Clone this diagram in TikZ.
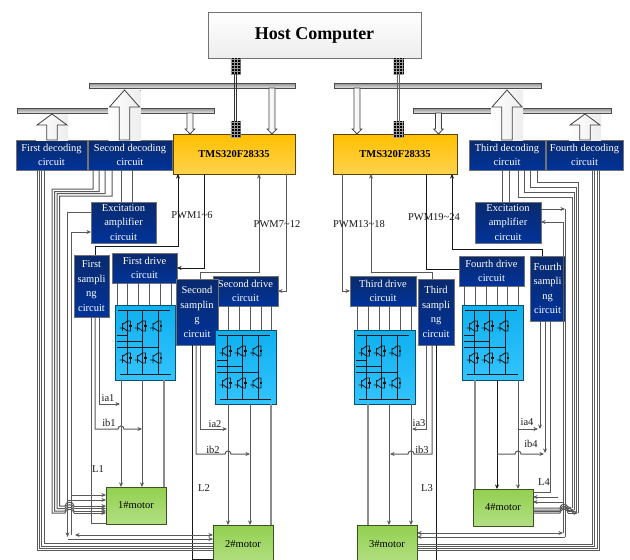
\documentclass[tikz,border=0pt]{standalone}
\usepackage{fontspec}
\setmainfont{Liberation Serif}
\usepackage{tikz}
\usetikzlibrary{arrows.meta,patterns}
\definecolor{navytop}{HTML}{0A2A6E}
\definecolor{navybot}{HTML}{003399}
\definecolor{skytop}{HTML}{0FB0EE}
\definecolor{skybot}{HTML}{33C4FF}
\definecolor{leaftop}{HTML}{92D050}
\definecolor{leafbot}{HTML}{B2DF82}
\definecolor{goldtop}{HTML}{FFC000}
\definecolor{goldbot}{HTML}{FFD24D}
\tikzset{
  boxtext/.style={font=\fontsize{10.5}{14.5}\selectfont,align=center,inner sep=0,outer sep=0},
  navybox/.style={boxtext,draw=black!55,line width=1pt,top color=navytop,bottom color=navybot,text=white},
  modbox/.style={boxtext,draw=black!55!skytop,line width=1pt,top color=skytop,bottom color=skybot},
  motorbox/.style={boxtext,draw=black!60!leaftop,line width=1pt,top color=leaftop,bottom color=leafbot},
  dspbox/.style={boxtext,draw=black!65!goldtop,line width=1pt,top color=goldtop,bottom color=goldbot,font=\fontsize{10.5}{12}\selectfont\bfseries},
  barbox/.style={inner sep=0,outer sep=0,draw=black!70,line width=.8pt,top color=black!45,bottom color=black!10},
  linkblock/.style={inner sep=0,outer sep=0,minimum width=10,minimum height=16,preaction={fill=black},pattern=grid,pattern color=black!40},
  sigtext/.style={boxtext,text=black!90},
  wirebk/.style={draw=black!90,line width=.8pt},
  wiregr/.style={draw=black!65,line width=1pt},
  wirelt/.style={draw=black!45,line width=1.3pt},
  fatarrow/.style={draw=black!75,line width=.8pt,left color=white,right color=black!7},
  igbtmod/.pic={
    \draw[line width=1pt,draw=black!90] (3,5.5) -- (55,5.5) (5,69) -- (56,69);
    \draw[line width=.9pt,draw=black!90] (2,30) -- (12.5,30) (2,36) -- (27.5,36) (2,42) -- (43,42);
    \foreach \lx in {12.5,27.5,43} {
      \draw[line width=.9pt,draw=black!90] (\lx,5.5) -- (\lx,69);
      \foreach \ly in {21,53} {
        \draw[line width=.8pt,draw=black!90] (\lx-8,\ly+2) -- (\lx-5,\ly+2) (\lx-5,\ly-3) -- (\lx-5,\ly+5)
          (\lx-5,\ly-1.5) -- (\lx,\ly-5) (\lx-5,\ly+1.5) -- (\lx,\ly+5) (\lx,\ly-5) -- (\lx+3,\ly-5) -- (\lx+3,\ly+5) -- (\lx,\ly+5);
        \fill[black!90] (\lx+1.6,\ly-1.4) rectangle (\lx+4.4,\ly+1.4);
      }
    }
  }
}
\begin{document}
\begin{tikzpicture}[x=1pt,y=-1pt,>={Stealth[length=1.6mm,width=1.4mm]}]
\clip (0,0) rectangle (630,560);
\fill[white] (0,0) rectangle (630,560);

\node (host) [boxtext,draw=black!55,line width=1pt,top color=white,bottom color=black!7,minimum width=213,minimum height=46,font=\fontsize{18}{20}\selectfont\bfseries] at (314.5,35) {Host Computer};
\node (barA) [barbox,minimum width=206,minimum height=5] at (192,85.5) {};
\node (barB) [barbox,minimum width=197,minimum height=5] at (115.5,110.5) {};
\node (barC) [barbox,minimum width=207,minimum height=5] at (437.5,85.5) {};
\node (barD) [barbox,minimum width=198,minimum height=5] at (512,110.5) {};
\node (dsp1) [dspbox,minimum width=122,minimum height=40] at (234,154) {TMS320F28335};
\node (dsp2) [dspbox,minimum width=124,minimum height=40] at (395,154) {TMS320F28335};

\node (dec1) [navybox,minimum width=71,minimum height=30] at (51.5,155) {First decoding\\circuit};
\node (dec2) [navybox,minimum width=84,minimum height=30] at (130,155) {Second decoding\\circuit};
\node (dec3) [navybox,minimum width=76,minimum height=30] at (507,155) {Third decoding\\circuit};
\node (dec4) [navybox,minimum width=77,minimum height=30] at (584.5,155) {Fourth decoding\\circuit};
\node (exc1) [navybox,minimum width=65,minimum height=41] at (123.5,222.5) {Excitation\\amplifier\\circuit};
\node (exc2) [navybox,minimum width=66,minimum height=41] at (508,222.5) {Excitation\\amplifier\\circuit};
\node (drv1) [navybox,minimum width=65,minimum height=30] at (144.5,268) {First drive\\circuit};
\node (drv2) [navybox,minimum width=65,minimum height=30] at (245.5,291) {Second drive\\circuit};
\node (drv3) [navybox,minimum width=66,minimum height=30] at (383,291) {Third drive\\circuit};
\node (drv4) [navybox,minimum width=65,minimum height=30] at (491.5,271) {Fourth drive\\circuit};
\node (smp1) [navybox,minimum width=35,minimum height=62] at (91.5,286) {First\\sampli\\ng\\circuit};
\node (smp2) [navybox,minimum width=42,minimum height=66] at (197,312) {Second\\samplin\\g\\circuit};
\node (smp3) [navybox,minimum width=36,minimum height=66] at (436,312) {Third\\sampli\\ng\\circuit};
\node (smp4) [navybox,minimum width=35,minimum height=65] at (547.5,288.5) {Fourth\\sampli\\ng\\circuit};

\node (mod1) [modbox,minimum width=60,minimum height=75] at (145,342.5) {};
\node (mod2) [modbox,minimum width=61,minimum height=74] at (245.5,367) {};
\node (mod3) [modbox,minimum width=61,minimum height=74] at (384.5,367) {};
\node (mod4) [modbox,minimum width=61,minimum height=75] at (492.5,342.5) {};
\foreach \modname in {mod1,mod2,mod3,mod4}
  \pic at (\modname.north west) {igbtmod};

\node (mot1) [motorbox,minimum width=60,minimum height=37] at (136,505.5) {1\#motor};
\node (mot2) [motorbox,minimum width=60,minimum height=38] at (243,544) {2\#motor};
\node (mot3) [motorbox,minimum width=60,minimum height=38] at (387,544) {3\#motor};
\node (mot4) [motorbox,minimum width=60,minimum height=37] at (503,507.5) {4\#motor};

\foreach \cx/\tipy/\neck/\src in {52/114/125/dec1,124.5/90/107/dec2,507/90/107/dec3,585/114/125/dec4} {
  \fill[left color=white,right color=black!7] (\cx-16,\tipy) rectangle (\cx+16,140);
  \draw[fatarrow] (\src.north -| \cx-5.3,0) -- (\cx-5.3,\neck) -- (\cx-15,\neck) -- (\cx,\tipy) -- (\cx+15,\neck) -- (\cx+5.3,\neck) -- (\src.north -| \cx+5.3,0) -- cycle;
}
\foreach \cx/\src/\dst in {190/barB/dsp1,272/barA/dsp1,357/barC/dsp2,438.5/barD/dsp2}
  \draw[fatarrow] (\src.south -| \cx-3,0) -- (\cx-3,129) -- (\cx-4.8,129) -- (\dst.north -| \cx,0) -- (\cx+4.8,129) -- (\cx+3,129) -- (\src.south -| \cx+3,0) -- cycle;

\node (linkA) [linkblock] at (235.5,66) {};
\node (linkB) [linkblock] at (235.5,129) {};
\node (linkC) [linkblock] at (398.5,66) {};
\node (linkD) [linkblock] at (398.5,129) {};
\draw[draw=black!80,line width=.8pt] ([xshift=-1]linkA.south) -- ([xshift=-1]linkB.north) ([xshift=1]linkA.south) -- ([xshift=1]linkB.north);
\draw[draw=black!60,line width=.8pt] ([xshift=-1]linkC.south) -- ([xshift=-1]linkD.north) ([xshift=1]linkC.south) -- ([xshift=1]linkD.north);

\draw[wirebk,->] (dsp1.south -| 204,0) |- (drv1.east |- 0,268);
\draw[wirebk,->] (smp1.north -| 95,0) |- (178,246) -- (dsp1.south -| 178,0);
\draw[wiregr,->] (dsp1.south -| 286,0) |- (drv2.east |- 0,291);
\draw[wiregr,->] (smp2.north -| 200,0) |- (259,272) -- (dsp1.south -| 259,0);
\draw[wiregr,->] (dsp2.south -| 342,0) |- (drv3.west |- 0,291);
\draw[wiregr,->] (smp3.north -| 432,0) |- (371,272) -- (dsp2.south -| 371,0);
\draw[wirebk] (dsp2.south -| 426,0) |- (drv4.west |- 0,269);
\draw[wirebk,->] (smp4.north -| 542,0) |- (452,249) -- (dsp2.south -| 452,0);

\foreach \px in {121,132}
  \draw[wiregr] (dec2.south -| \px,0) -- (exc1.north -| \px,0);
\foreach \px in {502,509}
  \draw[wiregr] (dec3.south -| \px,0) -- (exc2.north -| \px,0);

\foreach \px in {117,127,138,149,160,171}
  \draw[wiregr] (drv1.south -| \px,0) -- (mod1.north -| \px,0);
\foreach \px in {228,239,250,261,271}
  \draw[wiregr] (drv2.south -| \px,0) -- (mod2.north -| \px,0);
\foreach \px in {357,368,379,389,400,411}
  \draw[wiregr] (drv3.south -| \px,0) -- (mod3.north -| \px,0);
\foreach \px in {464,475,486,497,507,518}
  \draw[wiregr] (drv4.south -| \px,0) -- (mod4.north -| \px,0);

\draw[wiregr,->] (mod1.south -| 121,0) -- (mot1.north -| 121,0);
\draw[wiregr,->] (mod1.south -| 142,0) -- (mot1.north -| 142,0);
\draw[wirelt] (mod1.south -| 164,0) -- (mot1.north -| 164,0);
\draw[wiregr,->] (mod2.south -| 228,0) -- (mot2.north -| 228,0);
\draw[wiregr,->] (mod2.south -| 250,0) -- (mot2.north -| 250,0);
\draw[wirelt] (mod2.south -| 271,0) -- (mot2.north -| 271,0);
\draw[wirelt] (mod3.south -| 368,0) -- (mot3.north -| 368,0);
\draw[wiregr,->] (mod3.south -| 389,0) -- (mot3.north -| 389,0);
\draw[wiregr,->] (mod3.south -| 411,0) -- (mot3.north -| 411,0);
\draw[wirelt] (mod4.south -| 475,0) -- (mot4.north -| 475,0);
\draw[wirebk,->] (mod4.south -| 497,0) -- (mot4.north -| 497,0);
\draw[wiregr,->] (mod4.south -| 518,0) -- (mot4.north -| 518,0);

\draw[wiregr,->] (smp1.south -| 99,0) |- (120,404);
\draw[wiregr,->] (smp1.south -| 95,0) |- (118,429) .. controls (118,425) and (124,425) .. (124,429) -- (142,429);
\draw[wiregr] (smp1.south -| 91,0) |- (mot1.west |- 0,523);
\draw[wiregr,->] (smp2.south -| 200,0) |- (227,429);
\draw[wiregr,->] (smp2.south -| 196,0) |- (225,454) .. controls (225,450) and (231,450) .. (231,454) -- (250,454);
\draw[wirebk] (smp2.south -| 192,0) |- (mot2.west |- 0,559);
\draw[wiregr,->] (smp3.south -| 426,0) |- (412,429);
\draw[wiregr,->] (smp3.south -| 432,0) |- (414,454) .. controls (414,450) and (408,450) .. (408,454) -- (390,454);
\draw[wirebk] (smp3.south -| 436,0) -- (436,560);
\draw[wiregr,->] (smp4.south -| 540,0) -- (540,429);
\draw[wiregr,->] (smp4.south -| 545,0) -- (545,453);
\draw[wiregr] (smp4.south -| 550,0) |- (mot4.east |- 0,492);
\draw[wiregr,->] (518,429) -- (538,429);
\draw[wiregr,->] (497,454) -- (515,454) .. controls (515,450) and (521,450) .. (521,454) -- (544,454);

\foreach \px/\py/\qx/\qy in {37.5/550/dec1/mot2,39.5/548/dec1/mot2,41.5/546/dec1/mot2,44/543/dec1/mot2}
  \draw[wiregr] (\qx.south -| \px,0) |- (\qy.west |- 0,\py);
\foreach \sx/\hy/\vx/\my in {93/189/52/513,99/191.5/54.5/511,105/193.7/57/508.5,112/196/59.5/506} {
  \draw[wiregr] (dec2.south -| \sx,0) |- (\vx,\hy) |- (65,\my) .. controls (65,\my-5) and (74,\my-5) .. (74,\my);
  \draw[wiregr,->] (74,\my) -- (mot1.west |- 0,\my);
}
\draw[wiregr,->] (exc1.west |- 0,212) -| (67.5,537);
\draw[wiregr,->] (67.5,539) -- (mot2.west |- 0,539);
\draw[wiregr,->] (71.5,535) |- (exc1.west |- 0,232);
\draw[wiregr,<->] (75,535) -- (mot2.west |- 0,535);
\draw[wiregr,->] (71.5,495) -- (mot1.west |- 0,495);
\draw[wiregr,->] (67.5,500) -- (mot1.west |- 0,500);

\foreach \px/\py in {599/550,597/548,594.7/546,592.7/544}
  \draw[wiregr] (dec4.south -| \px,0) |- (mot3.east |- 0,\py);
\foreach \sx/\hy/\vx/\my in {537/182/578/513,530/187/576/511.5,524/192/574/510,518/197/572/508} {
  \draw[wiregr] (dec3.south -| \sx,0) |- (\vx,\hy) -- (\vx,\my);
  \draw[wiregr,->] (568,\my) -- (\vx,\my);
  \draw[wiregr] (mot4.east |- 0,\my) -- (560,\my) .. controls (560,\my-5) and (568,\my-5) .. (568,\my);
}
\draw[wiregr,->] (exc2.east |- 0,209) -- (565,209);
\draw[wiregr] (565,209) -- (565,537);
\draw[wiregr,->] (565,537) -- (mot3.east |- 0,537);
\draw[wiregr,->] (563,533) |- (exc2.east |- 0,222);
\draw[wiregr,<->] (mot3.east |- 0,533) -- (563,533);
\draw[wiregr,<-] (mot4.east |- 0,497) -- (558,497);
\draw[wiregr,<-] (mot4.east |- 0,502) -- (563,502);

\node (lblPwmA) [sigtext] at (192,215) {PWM1\textasciitilde6};
\node (lblPwmB) [sigtext] at (277,224) {PWM7\textasciitilde12};
\node (lblPwmC) [sigtext] at (359,224) {PWM13\textasciitilde18};
\node (lblPwmD) [sigtext] at (434,217) {PWM19\textasciitilde24};
\foreach \lname/\lx/\ly/\ltext in {iaA/108/398/ia1,ibA/109/423/ib1,lA/98/469/L1,iaB/215/424/ia2,ibB/213/450/ib2,lB/204/488/L2,iaC/419/423/ia3,ibC/422/450/ib3,lC/427/488/L3,iaD/527/422/ia4,ibD/531/444/ib4,lD/544/482/L4}
  \node (\lname) [sigtext] at (\lx,\ly) {\ltext};
\end{tikzpicture}
\end{document}
